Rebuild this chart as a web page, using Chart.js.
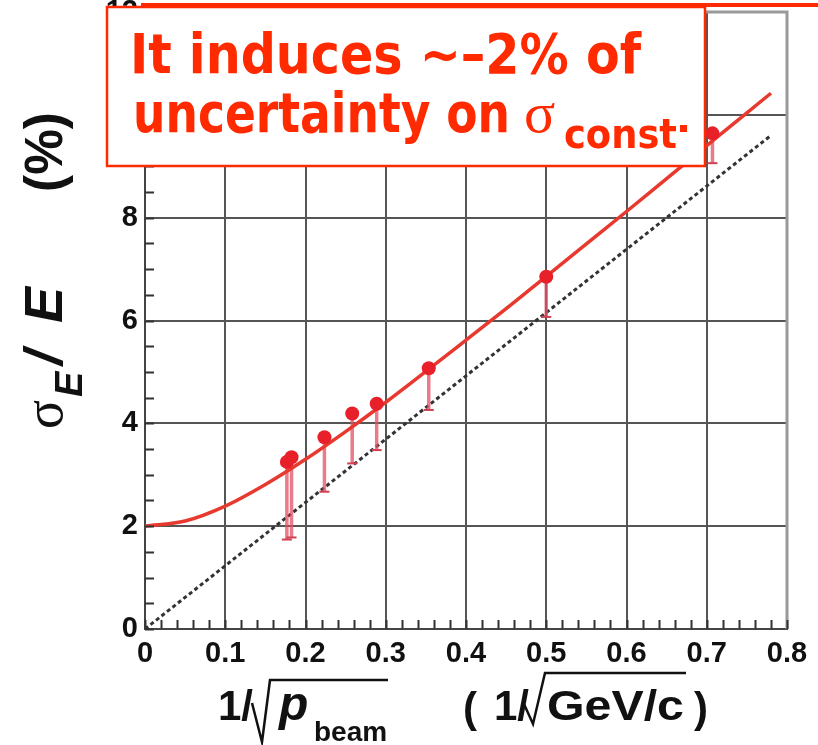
<!DOCTYPE html>
<html>
<head>
<meta charset="utf-8">
<script src="https://cdn.jsdelivr.net/npm/chart.js@4.4.1/dist/chart.umd.min.js"></script>
<style>
  html, body { margin: 0; padding: 0; background: #fff; }
  canvas { display: block; }
</style>
</head>
<body>
<canvas id="resolution" width="818" height="745"></canvas>
<script>
// measured points: x = 1/sqrt(p_beam), y = sigma_E/E (%)
const beamX = [0.1768, 0.1826, 0.2236, 0.2582, 0.2887, 0.3536, 0.5, 0.7071];
const sigmaE = [3.25, 3.34, 3.73, 4.19, 4.38, 5.07, 6.85, 9.64];
const sigmaLow = [1.74, 1.78, 2.67, 3.22, 3.48, 4.26, 6.07, 9.06];

// fitted curve
const fitX = [0, 0.05, 0.1, 0.15, 0.2, 0.25, 0.3, 0.35, 0.4, 0.45, 0.5, 0.55, 0.6, 0.65, 0.7, 0.75, 0.78];
const fitY = [2.0, 2.1, 2.39, 2.81, 3.3, 3.84, 4.41, 5.01, 5.62, 6.23, 6.86, 7.49, 8.12, 8.76, 9.4, 10.04, 10.42];

// dashed stochastic-only line
const stochX = [0, 0.78];
const stochY = [0, 9.6];

const xMin = 0, xMax = 0.8, xStep = 0.1, xMinor = 0.02;
const yMin = 0, yMax = 12, yStep = 2, yMinor = 0.5;

const RED = '#ff2a00';
const INK = '#111';

let errBars = [];
beamX.forEach((x, i) => {
    errBars.push({x: x, y: sigmaLow[i]});
    errBars.push({x: x, y: sigmaE[i]});
    errBars.push({x: x, y: null});
});

function fitText(ctx, txt, x, y, w) {
    const m = ctx.measureText(txt).width;
    ctx.save();
    ctx.translate(x, y);
    ctx.scale(w / m, 1);
    ctx.fillText(txt, 0, 0);
    ctx.restore();
}

const decor = {
    id: 'decor',
    beforeDraw(chart) {
        const ctx = chart.ctx;
        ctx.save();
        ctx.fillStyle = '#fff';
        ctx.fillRect(0, 0, chart.width, chart.height);
        ctx.restore();
    },
    afterDatasetsDraw(chart) {
        const ctx = chart.ctx;
        const a = chart.chartArea;
        const xs = chart.scales.x, ys = chart.scales.y;
        ctx.save();
        // frame top / right
        ctx.strokeStyle = '#999';
        ctx.lineWidth = 3;
        ctx.beginPath();
        ctx.moveTo(a.left, a.top);
        ctx.lineTo(a.right, a.top);
        ctx.lineTo(a.right, a.bottom);
        ctx.stroke();
        // minor ticks
        ctx.strokeStyle = '#333';
        ctx.lineWidth = 2;
        ctx.beginPath();
        for (let v = xMin; v <= xMax + 1e-9; v += xMinor) {
            const px = Math.round(xs.getPixelForValue(v)) + 0.5;
            ctx.moveTo(px, a.bottom);
            ctx.lineTo(px, a.bottom - 9);
        }
        for (let v = yMin; v <= yMax + 1e-9; v += yMinor) {
            const py = Math.round(ys.getPixelForValue(v)) + 0.5;
            ctx.moveTo(a.left, py);
            ctx.lineTo(a.left + 9, py);
        }
        ctx.stroke();
        ctx.restore();
    },
    afterDraw(chart) {
        const ctx = chart.ctx;
        ctx.save();
        ctx.fillStyle = INK;
        ctx.textBaseline = 'alphabetic';
        ctx.textAlign = 'left';

        // y title, rotated
        ctx.save();
        ctx.translate(62, 429);
        ctx.rotate(-Math.PI / 2);
        ctx.font = '54px "Liberation Serif", serif';
        ctx.fillText('σ', 0, 0);
        ctx.font = 'italic bold 38px "Liberation Sans", Arial, sans-serif';
        ctx.fillText('E', 32, 20);
        ctx.font = 'italic bold 54px "Liberation Sans", Arial, sans-serif';
        ctx.fillText('/', 64, 0);
        ctx.fillText('E', 106, 0);
        ctx.font = 'bold 54px "Liberation Sans", Arial, sans-serif';
        fitText(ctx, '(%)', 237, 0, 80);
        ctx.restore();

        // x title
        ctx.font = 'bold 42px "Liberation Sans", Arial, sans-serif';
        ctx.fillText('1/', 218, 720);
        ctx.font = 'italic bold 48px "Liberation Sans", Arial, sans-serif';
        ctx.fillText('p', 279, 720);
        ctx.font = 'bold 28px "Liberation Sans", Arial, sans-serif';
        ctx.fillText('beam', 314, 741);
        ctx.font = 'bold 42px "Liberation Sans", Arial, sans-serif';
        ctx.fillText('(', 463, 722);
        ctx.fillText('1/', 494, 720);
        fitText(ctx, 'GeV/c', 547, 720, 137);
        ctx.fillText(')', 694, 722);
        ctx.strokeStyle = INK;
        ctx.lineWidth = 2.5;
        ctx.beginPath();
        ctx.moveTo(252, 703); ctx.lineTo(262, 742); ctx.lineTo(270, 680); ctx.lineTo(388, 680);
        ctx.moveTo(524, 704); ctx.lineTo(533, 724); ctx.lineTo(545, 673); ctx.lineTo(686, 673);
        ctx.stroke();

        // red rule at top of slide
        ctx.fillStyle = RED;
        ctx.fillRect(141, 3, 677, 4);

        // annotation box
        ctx.fillStyle = '#fff';
        ctx.fillRect(107, 7, 598, 159);
        ctx.strokeStyle = RED;
        ctx.lineWidth = 2.5;
        ctx.strokeRect(107, 7, 598, 159);

        ctx.fillStyle = RED;
        const cond = '"Liberation Sans Narrow", "DejaVu Sans Condensed", "Liberation Sans", sans-serif';
        ctx.font = 'bold 56px ' + cond;
        fitText(ctx, 'It induces ~–2% of', 130, 73, 511);
        fitText(ctx, 'uncertainty on', 133, 132, 377);
        ctx.font = '58px "Liberation Serif", serif';
        ctx.fillText('σ', 524, 132);
        ctx.font = 'bold 40px ' + cond;
        fitText(ctx, 'const', 564, 148, 113);
        ctx.fillRect(680, 125, 7, 7);
        ctx.restore();
    }
};

const tickFont = {family: '"Liberation Sans", Arial, sans-serif', weight: 'bold', size: 29};

function gridColor(lo, hi) {
    return (c) => {
        const v = c.tick ? c.tick.value : 0;
        return (Math.abs(v - lo) < 1e-6 || Math.abs(v - hi) < 1e-6) ? 'rgba(0,0,0,0)' : '#555';
    };
}

const config = {
    type: 'scatter',
    data: {
        datasets: [
            {
                label: 'data',
                data: beamX.map((x, i) => ({x: x, y: sigmaE[i]})),
                pointRadius: 7,
                pointBackgroundColor: '#e8202a',
                pointBorderColor: '#e8202a',
                pointBorderWidth: 0,
                showLine: false,
                order: 0,
            },
            {
                label: 'caps',
                data: beamX.map((x, i) => ({x: x, y: sigmaLow[i]})),
                pointStyle: 'line',
                pointRadius: 5,
                pointBorderColor: '#d04050',
                pointBorderWidth: 2,
                showLine: false,
                order: 1,
            },
            {
                label: 'fit',
                data: fitX.map((x, i) => ({x: x, y: fitY[i]})),
                showLine: true,
                pointRadius: 0,
                borderColor: '#e8392f',
                borderWidth: 3.5,
                cubicInterpolationMode: 'monotone',
                order: 2,
            },
            {
                label: 'errors',
                data: errBars,
                showLine: true,
                spanGaps: false,
                pointRadius: 0,
                borderColor: 'rgba(225,80,100,0.75)',
                borderWidth: 3.5,
                order: 3,
            },
            {
                label: 'stochastic',
                data: stochX.map((x, i) => ({x: x, y: stochY[i]})),
                showLine: true,
                pointRadius: 0,
                borderColor: '#333',
                borderWidth: 3,
                borderDash: [4, 3],
                order: 4,
            },
        ]
    },
    options: {
        responsive: false,
        animation: false,
        devicePixelRatio: 1,
        layout: {padding: {top: 12, right: 31, left: 0, bottom: 0}},
        plugins: {
            legend: {display: false},
            tooltip: {enabled: false},
        },
        scales: {
            x: {
                type: 'linear',
                min: xMin,
                max: xMax,
                ticks: {stepSize: xStep, padding: 8, color: INK, font: tickFont, maxRotation: 0},
                grid: {color: gridColor(xMin, xMax), lineWidth: 2, drawTicks: false},
                border: {display: true, color: '#444', width: 2},
                afterFit(s) { s.height = 116; s.paddingLeft = 0; s.paddingRight = 0; },
            },
            y: {
                type: 'linear',
                min: yMin,
                max: yMax,
                ticks: {stepSize: yStep, padding: 7, color: INK, font: tickFont},
                grid: {color: gridColor(yMin, yMax), lineWidth: 2, drawTicks: false},
                border: {display: true, color: '#444', width: 2},
                afterFit(s) { s.width = 145; s.paddingTop = 0; s.paddingBottom = 0; },
            },
        },
    },
    plugins: [decor],
};

new Chart(document.getElementById('resolution').getContext('2d'), config);
</script>
</body>
</html>
